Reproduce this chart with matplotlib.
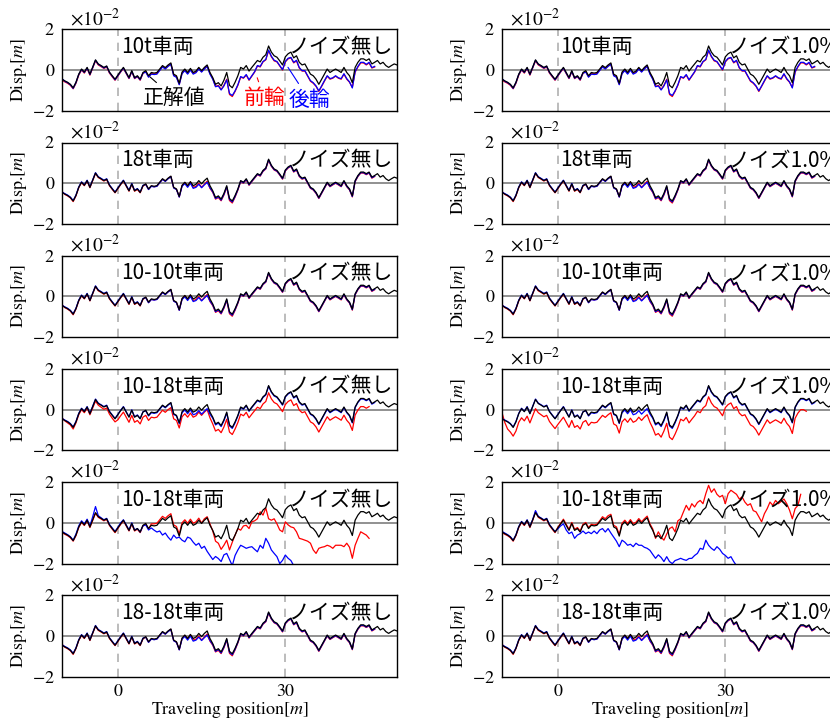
import numpy as np
import matplotlib.pyplot as plt

plt.rcParams['font.family'] = ['STIXGeneral', 'DejaVu Sans']
plt.rcParams['mathtext.fontset'] = 'stix'
jp = ['Noto Sans CJK JP', 'DejaVu Sans']

# sampling of the profiles [m]
x_start = -10.0
x_step = 0.5

# true road profile (black), x 1e-2 m, from -10 m to 50 m
true_disp = [
    -0.45, -0.53, -0.60, -0.70, -0.87, -0.60, -0.20, 0.05, -0.10, 0.13,
    -0.20, 0.15, 0.50, 0.30, 0.22, 0.13, 0.20, -0.10, -0.28, -0.45,
    -0.25, -0.05, 0.13, -0.12, -0.37, -0.03, -0.37, -0.28, -0.45, -0.12,
    -0.03, -0.28, -0.12, -0.15, -0.12, 0.05, 0.22, 0.12, 0.25, 0.35,
    -0.20, -0.28, -0.65, -0.10, 0.05, -0.12, 0.08, -0.12, -0.05, 0.13,
    -0.03, 0.13, 0.25, -0.12, -0.37, -0.70, -0.62, -0.78, -0.50, -0.12,
    -0.75, -0.87, -0.60, -0.28, 0.13, 0.05, 0.22, -0.05, 0.13, 0.30,
    0.47, 0.40, 0.63, 0.75, 1.18, 0.88, 0.70, 0.63, 0.45, 0.25,
    0.65, 0.80, 0.88, 0.60, 0.70, 0.38, 0.25, 0.30, 0.05, -0.20,
    -0.28, -0.45, -0.70, -0.45, -0.20, 0.05, -0.12, -0.03, 0.05, -0.03,
    -0.12, 0.13, -0.12, -0.28, -0.62, 0.13, 0.38, 0.55, 0.55, 0.47,
    0.55, 0.30, 0.38, 0.47, 0.30, 0.38, 0.22, 0.13, 0.22, 0.30,
    0.25]

# 10t vehicle
front_10t = [
    -0.50, -0.58, -0.65, -0.75, -0.92, -0.65, -0.25, 0.00, -0.15, 0.08,
    -0.25, 0.10, 0.45, 0.25, 0.17, 0.08, 0.15, -0.15, -0.33, -0.50,
    -0.30, -0.10, 0.08, -0.17, -0.42, -0.08, -0.42, -0.33, -0.50, -0.17,
    -0.08, -0.33, -0.17, -0.20, -0.17, 0.00, 0.17, 0.07, 0.20, 0.30,
    -0.25, -0.33, -0.70, -0.15, 0.00, -0.17, 0.03, -0.17, -0.10, 0.08,
    -0.08, 0.08, 0.20, -0.17, -0.42, -0.80, -0.75, -0.95, -0.75, -0.45,
    -1.20, -1.30, -1.05, -0.75, -0.35, -0.40, -0.25, -0.50, -0.30, -0.10,
    0.20, 0.15, 0.40, 0.50, 0.95, 0.65, 0.45, 0.40, 0.20, 0.00,
    0.40, 0.55, 0.60, 0.35, 0.45, 0.10, -0.05, -0.05, -0.30, -0.55,
    -0.65, -0.80, -1.05, -0.80, -0.55, -0.30, -0.45, -0.40, -0.30, -0.40,
    -0.45, -0.20, -0.45, -0.60, -0.85, -0.10, 0.15, 0.35, 0.35, 0.25,
    0.35, 0.10, 0.15]
rear_10t = [
    -0.42, -0.55, -0.62, -0.72, -0.90, -0.62, -0.22, 0.02, -0.12, 0.10,
    -0.22, 0.12, 0.48, 0.28, 0.20, 0.10, 0.18, -0.12, -0.30, -0.48,
    -0.28, -0.08, 0.10, -0.15, -0.40, -0.06, -0.40, -0.31, -0.48, -0.15,
    -0.10, -0.35, -0.20, -0.22, -0.20, -0.02, 0.15, 0.05, 0.18, 0.28,
    -0.28, -0.36, -0.72, -0.18, -0.03, -0.20, 0.00, -0.20, -0.13, 0.05,
    -0.10, 0.05, 0.17, -0.20, -0.45, -0.82, -0.78, -0.98, -0.78, -0.48,
    -1.15, -1.25, -1.02, -0.72, -0.32, -0.38, -0.22, -0.48, -0.28, -0.08,
    0.22, 0.18, 0.42, 0.52, 0.98, 0.68, 0.48, 0.42, 0.22, 0.02,
    0.42, 0.58, 0.62, 0.38, 0.48, 0.12, -0.03, -0.03, -0.28, -0.52,
    -0.62, -0.78, -1.02, -0.78, -0.52, -0.28, -0.42, -0.38, -0.28, -0.38,
    -0.42, -0.18, -0.42, -0.58, -0.88, -0.08, 0.18, 0.38, 0.38, 0.28,
    0.38, 0.12, 0.18]

# estimates that stay on top of the true profile (18t, 10-10t, 18-18t)
close_front = [
    -0.40, -0.55, -0.62, -0.72, -0.90, -0.62, -0.22, 0.03, -0.12, 0.11,
    -0.22, 0.13, 0.48, 0.28, 0.20, 0.11, 0.18, -0.12, -0.30, -0.47,
    -0.27, -0.07, 0.11, -0.14, -0.39, -0.05, -0.39, -0.30, -0.47, -0.14,
    -0.05, -0.30, -0.14, -0.17, -0.14, 0.03, 0.20, 0.10, 0.23, 0.33,
    -0.22, -0.30, -0.67, -0.12, 0.03, -0.14, 0.06, -0.20, -0.15, 0.00,
    -0.20, -0.05, 0.10, -0.25, -0.45, -0.78, -0.70, -0.86, -0.58, -0.20,
    -0.85, -0.97, -0.68, -0.34, 0.08, 0.00, 0.17, -0.10, 0.08, 0.25,
    0.42, 0.35, 0.58, 0.70, 1.12, 0.83, 0.65, 0.58, 0.40, 0.20,
    0.60, 0.75, 0.83, 0.55, 0.65, 0.33, 0.20, 0.25, 0.00, -0.25,
    -0.33, -0.50, -0.75, -0.50, -0.25, 0.00, -0.17, -0.08, 0.00, -0.08,
    -0.17, 0.08, -0.17, -0.33, -0.67, 0.08, 0.33, 0.50, 0.50, 0.42,
    0.50, 0.25, 0.33]
close_rear = [
    -0.43, -0.51, -0.58, -0.68, -0.85, -0.58, -0.18, 0.07, -0.08, 0.15,
    -0.18, 0.17, 0.52, 0.32, 0.24, 0.15, 0.22, -0.08, -0.26, -0.43,
    -0.23, -0.03, 0.15, -0.10, -0.35, -0.01, -0.35, -0.26, -0.43, -0.10,
    -0.06, -0.31, -0.15, -0.18, -0.15, 0.02, 0.19, 0.09, 0.22, 0.32,
    -0.23, -0.31, -0.68, -0.15, -0.02, -0.20, 0.00, -0.25, -0.20, -0.05,
    -0.22, -0.08, 0.05, -0.22, -0.42, -0.75, -0.66, -0.83, -0.55, -0.17,
    -0.80, -0.92, -0.65, -0.31, 0.10, 0.02, 0.19, -0.08, 0.10, 0.27,
    0.44, 0.37, 0.60, 0.72, 1.15, 0.85, 0.67, 0.60, 0.42, 0.22,
    0.62, 0.77, 0.85, 0.57, 0.67, 0.35, 0.22, 0.27, 0.02, -0.23,
    -0.31, -0.48, -0.73, -0.48, -0.23, 0.02, -0.15, -0.06, 0.02, -0.06,
    -0.15, 0.10, -0.15, -0.31, -0.65, 0.10, 0.35, 0.52, 0.52, 0.44,
    0.52, 0.27, 0.35]

# 10-18t, row 4 (front wheel offset)
front_1018_a = [
    -0.40, -0.55, -0.65, -0.75, -0.95, -0.65, -0.25, 0.00, -0.15, 0.08,
    -0.25, 0.08, 0.42, 0.22, 0.12, 0.02, 0.08, -0.22, -0.42, -0.60,
    -0.50, -0.30, -0.12, -0.37, -0.62, -0.28, -0.62, -0.53, -0.70, -0.37,
    -0.28, -0.53, -0.37, -0.40, -0.37, -0.20, -0.03, -0.13, 0.00, 0.10,
    -0.45, -0.53, -0.90, -0.35, -0.20, -0.37, -0.17, -0.37, -0.30, -0.12,
    -0.28, -0.12, 0.00, -0.40, -0.70, -1.05, -0.97, -1.13, -0.85, -0.47,
    -1.10, -1.22, -0.95, -0.63, -0.22, -0.30, -0.13, -0.40, -0.22, -0.05,
    0.12, 0.05, 0.28, 0.40, 0.83, 0.53, 0.35, 0.28, 0.10, -0.10,
    0.25, 0.40, 0.48, 0.20, 0.30, -0.02, -0.15, -0.10, -0.35, -0.60,
    -0.68, -0.85, -1.10, -0.85, -0.60, -0.35, -0.52, -0.43, -0.35, -0.43,
    -0.52, -0.27, -0.52, -0.68, -1.02, -0.27, -0.02, 0.15, 0.15, 0.07,
    0.15]
front_1018_b = [
    -0.15, -0.63, -0.95, -1.10, -1.30, -1.05, -0.62, -0.40, -0.55, -0.32,
    -0.65, -0.30, 0.05, -0.15, -0.25, -0.35, -0.28, -0.58, -0.76, -0.93,
    -0.73, -0.55, -0.37, -0.62, -0.87, -0.53, -0.87, -0.78, -0.95, -0.62,
    -0.53, -0.78, -0.62, -0.65, -0.62, -0.45, -0.28, -0.38, -0.25, -0.15,
    -0.70, -0.78, -1.15, -0.60, -0.45, -0.62, -0.42, -0.62, -0.55, -0.37,
    -0.53, -0.37, -0.25, -0.62, -0.90, -1.25, -1.17, -1.35, -1.05, -0.67,
    -1.35, -1.47, -1.20, -0.88, -0.47, -0.55, -0.38, -0.65, -0.47, -0.30,
    -0.08, -0.15, 0.08, 0.20, 0.63, 0.33, 0.15, 0.08, -0.10, -0.30,
    0.10, 0.25, 0.33, 0.05, 0.15, -0.17, -0.30, -0.25, -0.50, -0.75,
    -0.83, -1.00, -1.25, -1.00, -0.75, -0.50, -0.67, -0.58, -0.50, -0.58,
    -0.67, -0.42, -0.67, -0.83, -1.17, -0.42, -0.17, 0.00, 0.00, -0.08]

# 10-18t, row 5 (diverging estimates)
front_1018_c = [
    -0.48, -0.56, -0.63, -0.73, -0.90, -0.63, -0.23, 0.02, -0.13, 0.10,
    -0.23, 0.12, 0.47, 0.27, 0.19, 0.10, 0.17, -0.13, -0.31, -0.48,
    -0.28, -0.08, 0.10, -0.15, -0.40, -0.06, -0.40, -0.31, -0.48, -0.15,
    -0.06, -0.31, -0.05, -0.05, -0.02, 0.15, 0.32, 0.22, 0.35, 0.45,
    -0.10, -0.18, -0.55, 0.00, 0.15, -0.02, 0.18, -0.02, 0.05, 0.23,
    -0.01, 0.20, 0.30, -0.05, -0.40, -0.90, -1.00, -1.30, -1.10, -0.85,
    -1.33, -0.95, -0.60, -0.28, -0.36, -0.15, -0.12, -0.28, 0.05, 0.10,
    0.20, 0.54, 0.38, 0.73, 0.20, 0.13, 0.20, -0.05, -0.35, -0.44,
    0.05, -0.10, -0.20, -0.24, -0.44, -0.76, -0.80, -0.85, -0.90, -1.00,
    -1.33, -1.50, -1.25, -1.20, -1.17, -1.10, -1.15, -1.25, -1.10, -1.10,
    -1.10, -1.17, -1.00, -1.20, -1.74, -1.10, -0.76, -0.44, -0.52, -0.60,
    -0.76]
rear_1018_c = [
    -0.42, -0.50, -0.58, -0.68, -0.85, -0.55, -0.15, 0.10, -0.05, 0.18,
    -0.15, 0.30, 0.80, 0.35, 0.25, 0.15, 0.22, -0.08, -0.25, -0.42,
    -0.22, 0.00, 0.15, -0.10, -0.35, 0.00, -0.35, -0.28, -0.45, -0.15,
    -0.10, -0.35, -0.25, -0.36, -0.45, -0.40, -0.60, -0.50, -0.70, -0.85,
    -0.60, -0.75, -0.70, -0.85, -0.93, -0.70, -0.76, -0.95, -1.10, -1.00,
    -1.25, -1.15, -1.40, -1.60, -1.80, -1.65, -1.75, -1.90, -1.57, -1.50,
    -1.80, -2.10, -1.60, -1.33, -1.10, -1.17, -1.25, -1.20, -1.17, -1.30,
    -1.42, -1.10, -1.25, -0.76, -1.00, -1.33, -1.50, -1.66, -2.00, -1.84,
    -1.58, -1.74, -1.85, -2.10, -2.30]
front_1018_d = [
    -0.48, -0.56, -0.63, -0.73, -0.90, -0.63, -0.23, 0.02, -0.13, 0.10,
    -0.23, 0.12, 0.55, 0.27, 0.19, 0.10, 0.17, -0.13, -0.31, -0.48,
    -0.22, -0.02, 0.18, -0.07, -0.32, 0.02, -0.32, -0.23, -0.40, -0.07,
    0.02, -0.23, -0.07, -0.10, -0.07, 0.10, 0.30, 0.20, 0.35, 0.42,
    -0.12, -0.20, -0.57, -0.02, 0.13, -0.04, 0.16, -0.04, 0.03, 0.21,
    0.05, 0.20, 0.33, -0.05, -0.30, -0.76, -0.44, -0.70, -0.85, -0.55,
    -0.28, -0.20, -0.44, 0.10, 0.20, 0.54, 0.86, 0.62, 0.94, 0.78,
    1.00, 1.10, 0.94, 1.43, 1.84, 1.50, 1.67, 1.40, 1.27, 1.35,
    0.94, 1.43, 1.60, 1.50, 1.40, 1.17, 1.27, 1.02, 0.86, 0.94,
    0.60, 0.54, 0.30, 0.05, 0.45, 0.70, 1.02, 0.86, 1.10, 0.94,
    1.05, 1.17, 0.94, 0.62, 0.20, 0.70, 0.86, 1.40]
rear_1018_d = [
    -0.42, -0.50, -0.58, -0.68, -0.85, -0.58, -0.18, 0.07, -0.08, 0.15,
    -0.18, 0.17, 0.60, 0.32, 0.24, 0.15, 0.22, -0.08, -0.26, -0.43,
    -0.30, -0.15, -0.05, -0.35, -0.53, -0.45, -0.76, -0.60, -0.53, -0.40,
    -0.53, -0.45, -0.53, -0.40, -0.53, -0.35, -0.28, -0.45, -0.28, -0.50,
    -0.70, -0.90, -1.17, -0.85, -0.95, -1.10, -1.05, -1.17, -1.00, -1.10,
    -1.10, -1.20, -1.25, -1.35, -1.55, -1.74, -1.57, -1.70, -1.90, -1.66,
    -1.90, -2.00, -1.85, -1.80, -1.74, -1.80, -1.84, -1.75, -1.74, -1.60,
    -1.50, -1.25, -1.30, -0.85, -1.10, -1.25, -1.35, -1.17, -1.30, -1.50,
    -1.60, -1.74, -1.66, -1.90, -2.10]

vehicles = ['10t車両', '18t車両', '10-10t車両', '10-18t車両', '10-18t車両', '18-18t車両']
noise_labels = ['ノイズ無し', 'ノイズ1.0%']
front_cols = [
    [front_10t, close_front, close_front, front_1018_a, front_1018_c, close_front],
    [front_10t, close_front, close_front, front_1018_b, front_1018_d, close_front],
]
rear_cols = [
    [rear_10t, close_rear, close_rear, close_rear, rear_1018_c, close_rear],
    [rear_10t, close_rear, close_rear, close_rear, rear_1018_d, close_rear],
]


def profile(values):
    y = np.array(values) * 1e-2
    x = x_start + x_step * np.arange(len(y))
    return x, y


fig = plt.figure(figsize=(8.3, 7.19), dpi=100)
W, H = 830.0, 719.0
col_left = [62, 502]
ax_w = 335
ax_h = 81.5

for col in range(2):
    for row in range(6):
        top = 29.3 + 113.2 * row
        ax = fig.add_axes([col_left[col] / W, 1 - (top + ax_h) / H, ax_w / W, ax_h / H])
        ax.axhline(0, color='#888888', lw=1.3, zorder=1)
        for xv in (0, 30):
            ax.axvline(xv, color='#b0b0b0', lw=1.2, ls=(0, (5, 4)), zorder=1)

        ax.plot(*profile(front_cols[col][row]), color='red', lw=0.9)
        ax.plot(*profile(rear_cols[col][row]), color='blue', lw=0.9)
        ax.plot(*profile(true_disp), color='black', lw=0.9)

        ax.set_xlim(-10, 50)
        ax.set_ylim(-0.02, 0.02)
        ax.set_xticks([0, 30])
        ax.set_yticks([-0.02, 0, 0.02])
        ax.ticklabel_format(axis='y', style='sci', scilimits=(-2, -2), useMathText=True)
        off = ax.yaxis.get_offset_text()
        off.set_fontsize(14)
        off.set_x(0.025)
        ax.tick_params(length=0, labelsize=13, pad=5)
        for sp in ax.spines.values():
            sp.set_linewidth(1.0)
        if row < 5:
            ax.tick_params(labelbottom=False)
        else:
            ax.set_xlabel('Traveling position$[m]$', fontsize=13, labelpad=0)
        ax.set_ylabel('Disp.$[m]$', fontsize=13, labelpad=2)

        ax.text(0.5, 0.0113, vehicles[row], fontsize=15, family=jp, va='center')
        ax.text(30.5, 0.0113, noise_labels[col], fontsize=15, family=jp, va='center')

        if row == 0 and col == 0:
            ax.annotate('正解値', xy=(5.4, -0.0025), xytext=(4.5, -0.0138), fontsize=15,
                        family=jp, color='black', va='center',
                        arrowprops=dict(arrowstyle='-', color='black', lw=0.8))
            ax.annotate('前輪', xy=(24.8, -0.0025), xytext=(22.5, -0.0138), fontsize=15,
                        family=jp, color='red', va='center',
                        arrowprops=dict(arrowstyle='-', color='red', lw=0.8))
            ax.annotate('後輪', xy=(30.2, 0.0025), xytext=(30.5, -0.0145), fontsize=15,
                        family=jp, color='blue', va='center',
                        arrowprops=dict(arrowstyle='-', color='blue', lw=0.8))

fig.savefig('out.png', dpi=100)
